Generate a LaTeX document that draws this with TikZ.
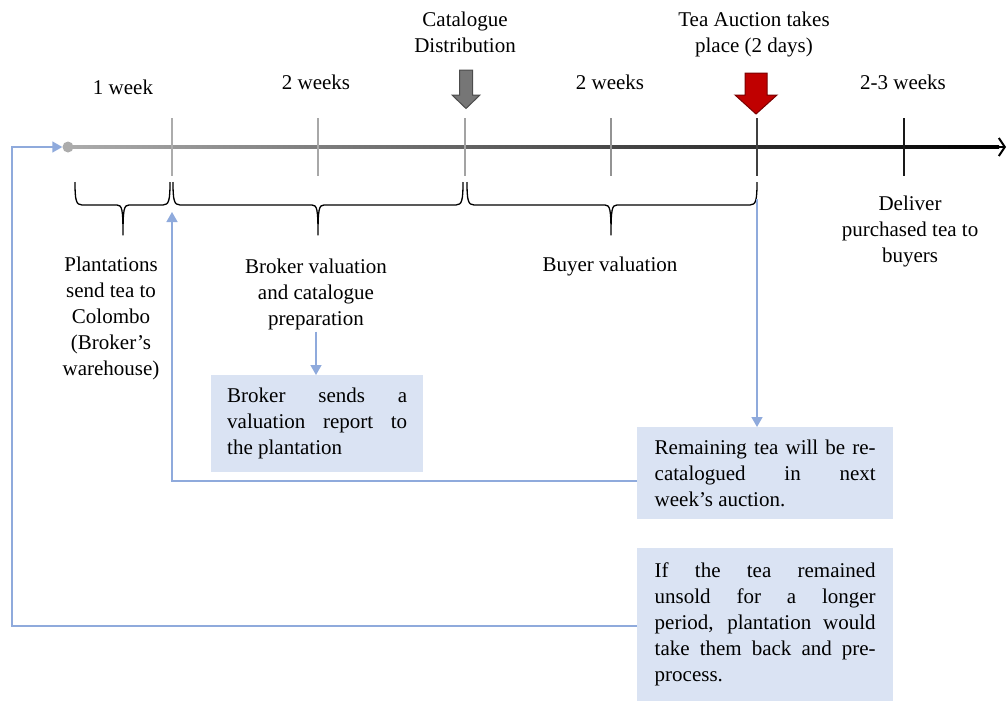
\documentclass[tikz,border=0pt]{standalone}
\usepackage{fontspec}
\setmainfont{Liberation Serif}
\usetikzlibrary{arrows.meta,calc}
\definecolor{boxfill}{HTML}{DAE3F3}
\definecolor{linkblue}{HTML}{8FAADC}
\definecolor{auctionred}{HTML}{C00000}
\definecolor{auctionedge}{HTML}{7A0000}
\definecolor{distgray}{HTML}{767676}

% curly brace under the timeline: left end, tip, right end (x in pt)
\newcommand\teabrace[3]{%
  \draw[bracepath] (#1,182) .. controls (#1,200) and (#1+1,205) .. (#1+7,205)
    -- (#2-6,205) .. controls (#2-1,205) and (#2,209) .. (#2,235)
    .. controls (#2,209) and (#2+1,205) .. (#2+6,205)
    -- (#3-7,205) .. controls (#3-1,205) and (#3,200) .. (#3,182);}

\begin{document}
\begin{tikzpicture}[x=1pt,y=-1pt,
  every node/.style={font=\fontsize{21}{26}\selectfont, inner sep=2pt},
  lbl/.style={align=center},
  note/.style={fill=boxfill, align=justify, anchor=north west, inner ysep=0pt},
  conn/.style={draw=linkblue, line width=1.5pt, -{Triangle[length=10pt,width=11pt]}},
  tick/.style={line width=2.6pt},
  bracepath/.style={draw=black, line width=1.3pt, line join=round},
  blockarrow/.style={line width=1pt, line join=miter}]
\useasboundingbox (0,0) rectangle (1008,701);

% timeline
\shade[left color=gray!65, right color=black] (68,145.6) rectangle (999,148.6);
\draw[line width=2.4pt, -{Straight Barb[length=6pt,width=18pt,line width=2pt]}] (990,147) -- (1006,147);
\node[circle, fill=gray!65, minimum size=11pt, inner sep=0pt] (dot) at (68,147) {};

\coordinate (t1) at (172,147);
\coordinate (t2) at (318,147);
\coordinate (t3) at (465,147);
\coordinate (t4) at (611,147);
\coordinate (t5) at (757,147);
\coordinate (t6) at (904,147);
\foreach \x/\c in {172/gray!65, 318/gray!68, 465/gray!72, 611/gray!85, 757/black!75, 904/black!90}
  \draw[tick, \c] (\x,118) -- (\x,176);

% period labels
\node[lbl] (w1) at (123,87) {1 week};
\node[lbl] (w2) at (316,82) {2 weeks};
\node[lbl] (w3) at (610,82) {2 weeks};
\node[lbl] (w4) at (903,82) {2-3 weeks};

% event labels and markers
\node[lbl] (catdist) at (465,32) {Catalogue\\Distribution};
\node[lbl] (auction) at (754,34) {Tea Auction takes\\place (2 days)};
\filldraw[blockarrow, fill=distgray, draw=black!70]
  (459.5,70) -- (472.5,70) -- (472.5,95) -- (480,95) -- (466,108.5) -- (452,95) -- (459.5,95) -- cycle;
\filldraw[blockarrow, fill=auctionred, draw=auctionedge]
  (745,73) -- (767,73) -- (767,95) -- (777,95) -- (756,114) -- (735,95) -- (745,95) -- cycle;

% braces
\teabrace{75}{123}{170}
\teabrace{173}{318}{463}
\teabrace{467}{611}{757}

% stage descriptions
\node[lbl] (plant) at (111,318) {Plantations\\send tea to\\Colombo\\(Broker’s\\warehouse)};
\node[lbl] (brk) at (316,294) {Broker valuation\\and catalogue\\preparation};
\node[lbl] (buyer) at (610,266) {Buyer valuation};
\node[lbl] (deliver) at (910,231) {Deliver\\purchased tea to\\buyers};

% notes
\node[note, text width=180pt, inner xsep=16pt, minimum height=97pt] (box1) at (211,375)
  {Broker sends a\linebreak valuation report to\linebreak the plantation};
\node[note, text width=221pt, inner xsep=17.5pt, minimum height=92pt] (box2) at (637,427)
  {Remaining tea will be re-\linebreak catalogued in next\linebreak week’s auction.};
\node[note, text width=221pt, inner xsep=17.5pt, minimum height=153pt] (box3) at (637,548)
  {If the tea remained\linebreak unsold for a longer\linebreak period, plantation would\linebreak take them back and pre-\linebreak process.};

% connectors
\coordinate (aucdrop) at (757,199);
\coordinate (ret1) at (172,212);
\coordinate (corner) at (12,147);
\draw[conn] (brk.south) -- (brk.south |- box1.north);
\draw[conn] (aucdrop) -- (aucdrop |- box2.north);
\draw[conn] (box2.west |- 0,481) -| (ret1);
\draw[conn] (box3.west |- 0,626) -| (corner) -- (dot);
\end{tikzpicture}
\end{document}
